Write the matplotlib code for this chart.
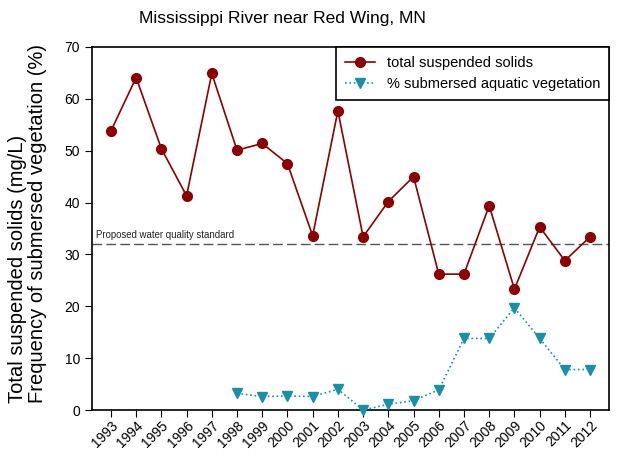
import matplotlib.pyplot as plt

plt.rcParams["font.family"] = ["Liberation Sans", "DejaVu Sans"]

years = list(range(1993, 2013))
tss = [53.8, 64.1, 50.4, 41.3, 64.9, 50.1, 51.4, 47.5, 33.6, 57.7,
       33.4, 40.2, 45.0, 26.2, 26.2, 39.4, 23.3, 35.3, 28.8, 33.4]
sav_years = list(range(1998, 2013))
sav = [3.2, 2.6, 2.7, 2.6, 4.0, 0.0, 1.1, 1.8, 3.9, 13.8,
       13.8, 19.7, 13.8, 7.8, 7.8]
standard = 32.0

fig = plt.figure(figsize=(6.4, 4.74), dpi=100)
ax = fig.add_axes([92 / 640, 1 - 410 / 474, 517 / 640, 363 / 474])

ax.plot(years, tss, color="#8b0000", marker="o", markersize=7, linewidth=1.2,
        label="total suspended solids", zorder=3)
ax.plot(sav_years, sav, color="#1a8fa8", marker="v", markersize=7.5,
        linestyle=":", linewidth=1.2, markeredgecolor="#1a8fa8",
        label="% submersed aquatic vegetation", zorder=3, clip_on=False)
ax.axhline(standard, color="#555555", linestyle=(0, (7, 3)), linewidth=1.0)
ax.text(1992.4, standard + 0.7, "Proposed water quality standard",
        fontsize=6.9, color="#222222", va="bottom")

ax.set_xlim(1992.25, 2012.75)
ax.set_ylim(0, 70)
ax.set_xticks(years)
ax.set_xticklabels([str(y) for y in years], rotation=45, ha="right",
                   rotation_mode="anchor", fontsize=10)
ax.set_yticks(range(0, 71, 10))
ax.tick_params(axis="y", labelsize=10, direction="out", length=5)
ax.tick_params(axis="x", direction="out", length=5, pad=1)
for s in ax.spines.values():
    s.set_linewidth(1.2)

ax.set_ylabel("Total suspended solids (mg/L)\nFrequency of submersed vegetation (%)",
              fontsize=14.5, linespacing=1.05, multialignment="left")
ax.yaxis.set_label_coords(-0.088, 0.515)

fig.text(282 / 640, 1 - 18 / 474, "Mississippi River near Red Wing, MN",
         fontsize=12.5, ha="center", va="center")

leg = ax.legend(loc="upper right", borderaxespad=0, fontsize=10.5,
                fancybox=False, framealpha=1, edgecolor="black",
                handlelength=2.1, borderpad=0.6)
leg.get_frame().set_linewidth(1.2)

fig.savefig("out.png", dpi=100)
